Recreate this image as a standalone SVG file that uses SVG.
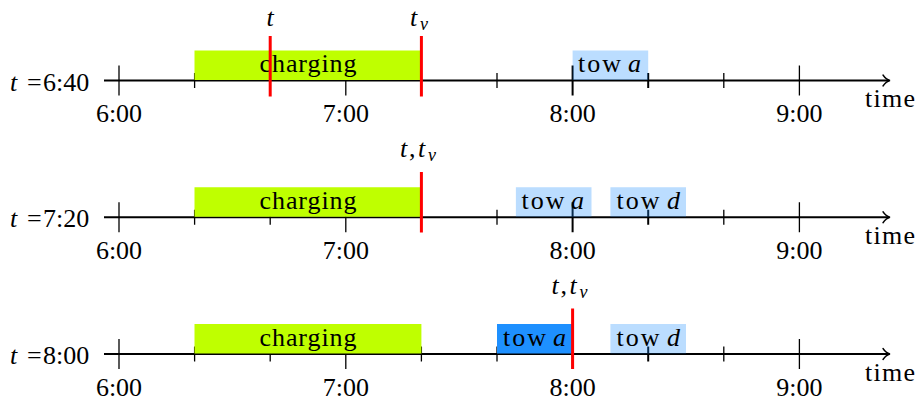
<svg xmlns="http://www.w3.org/2000/svg" width="919" height="402" viewBox="0 0 919 402">
<style>
text{font-family:"Liberation Serif","Times New Roman",serif;font-size:26px;fill:#000}
.i{font-style:italic}
.sub{font-style:italic;font-size:18px}
.mid{text-anchor:middle}
.axis{stroke:#000;stroke-width:1.8;fill:none}
.arr{stroke:#000;stroke-width:1.4;fill:none;stroke-linecap:round}
.tk{stroke:#000;stroke-width:1.3}
.tkb{stroke:#000;stroke-width:2}
.chg{fill:#bfff00}
.tow{fill:#1e90ff;fill-opacity:0.3}
.towd{fill:#1e90ff}
.red{stroke:#ff0000;stroke-width:3}
</style>
<rect width="919" height="402" fill="#fff"/>

<g id="row1">
  <g id="row1-axis">
    <line class="axis" x1="104" y1="80.5" x2="889" y2="80.5"/>
    <path class="arr" d="M883,75 Q886,79.5 890,80.5 Q886,81.5 883,86"/>
    <line class="tk" x1="119" y1="65.5" x2="119" y2="95.5"/>
    <line class="tk" x1="194.6" y1="73" x2="194.6" y2="88"/>
    <line class="tk" x1="270.2" y1="73" x2="270.2" y2="88"/>
    <line class="tk" x1="345.8" y1="65.5" x2="345.8" y2="95.5"/>
    <line class="tk" x1="421.4" y1="73" x2="421.4" y2="88"/>
    <line class="tk" x1="497" y1="73" x2="497" y2="88"/>
    <line class="tkb" x1="572.6" y1="65.5" x2="572.6" y2="95.5"/>
    <line class="tkb" x1="648.2" y1="73" x2="648.2" y2="88"/>
    <line class="tk" x1="723.8" y1="73" x2="723.8" y2="88"/>
    <line class="tk" x1="799.4" y1="65.5" x2="799.4" y2="95.5"/>
    <text class="mid" x="119" y="122">6:00</text>
    <text class="mid" x="345.8" y="122">7:00</text>
    <text class="mid" x="572.6" y="122">8:00</text>
    <text class="mid" x="799.4" y="122">9:00</text>
    <text x="865" y="107" textLength="50">time</text>
    <text y="90.5"><tspan class="i" x="10">t</tspan><tspan x="27">=</tspan><tspan x="43">6:40</tspan></text>
  </g>
  <g id="row1-charging">
    <rect class="chg" x="194.5" y="50.5" width="226.9" height="29.5"/>
    <text x="259.5" y="72" textLength="97">charging</text>
  </g>
  <g id="row1-tow-a">
    <rect class="tow" x="572.6" y="50.5" width="75.6" height="29.5"/>
    <text y="72"><tspan x="578" textLength="43">tow</tspan><tspan class="i" x="628">a</tspan></text>
  </g>
  <g id="row1-markers">
    <line class="red" x1="270.2" y1="36" x2="270.2" y2="96.5"/>
    <line class="red" x1="421.4" y1="36" x2="421.4" y2="96.5"/>
    <text class="i mid" x="270.2" y="26">t</text>
    <text y="26"><tspan class="i" x="410">t</tspan><tspan class="sub" x="420" dy="4">v</tspan></text>
  </g>
</g>

<g id="row2">
  <g id="row2-axis">
    <line class="axis" x1="104" y1="217.25" x2="889" y2="217.25"/>
    <path class="arr" d="M883,211.75 Q886,216.25 890,217.25 Q886,218.25 883,222.75"/>
    <line class="tk" x1="119" y1="202.25" x2="119" y2="232.25"/>
    <line class="tk" x1="194.6" y1="209.75" x2="194.6" y2="224.75"/>
    <line class="tk" x1="270.2" y1="209.75" x2="270.2" y2="224.75"/>
    <line class="tk" x1="345.8" y1="202.25" x2="345.8" y2="232.25"/>
    <line class="tk" x1="421.4" y1="209.75" x2="421.4" y2="224.75"/>
    <line class="tk" x1="497" y1="209.75" x2="497" y2="224.75"/>
    <line class="tkb" x1="572.6" y1="202.25" x2="572.6" y2="232.25"/>
    <line class="tkb" x1="648.2" y1="209.75" x2="648.2" y2="224.75"/>
    <line class="tk" x1="723.8" y1="209.75" x2="723.8" y2="224.75"/>
    <line class="tk" x1="799.4" y1="202.25" x2="799.4" y2="232.25"/>
    <text class="mid" x="119" y="258.75">6:00</text>
    <text class="mid" x="345.8" y="258.75">7:00</text>
    <text class="mid" x="572.6" y="258.75">8:00</text>
    <text class="mid" x="799.4" y="258.75">9:00</text>
    <text x="865" y="243.75" textLength="50">time</text>
    <text y="227.25"><tspan class="i" x="10">t</tspan><tspan x="27">=</tspan><tspan x="43">7:20</tspan></text>
  </g>
  <g id="row2-charging">
    <rect class="chg" x="194.5" y="187.25" width="226.9" height="29.5"/>
    <text x="259.5" y="208.75" textLength="97">charging</text>
  </g>
  <g id="row2-tow-a">
    <rect class="tow" x="515.9" y="187.25" width="75.6" height="29.5"/>
    <text y="208.75"><tspan x="521.5" textLength="43">tow</tspan><tspan class="i" x="571">a</tspan></text>
  </g>
  <g id="row2-tow-d">
    <rect class="tow" x="610.4" y="187.25" width="75.6" height="29.5"/>
    <text y="208.75"><tspan x="616.5" textLength="43">tow</tspan><tspan class="i" x="667">d</tspan></text>
  </g>
  <g id="row2-markers">
    <line class="red" x1="421.4" y1="172" x2="421.4" y2="232.5"/>
    <text y="157"><tspan class="i" x="400">t</tspan><tspan x="409">,</tspan><tspan class="i" x="418">t</tspan><tspan class="sub" x="428" dy="4">v</tspan></text>
  </g>
</g>

<g id="row3">
  <g id="row3-axis">
    <line class="axis" x1="104" y1="354" x2="889" y2="354"/>
    <path class="arr" d="M883,348.5 Q886,353 890,354 Q886,355 883,359.5"/>
    <line class="tk" x1="119" y1="339" x2="119" y2="369"/>
    <line class="tk" x1="194.6" y1="346.5" x2="194.6" y2="361.5"/>
    <line class="tk" x1="270.2" y1="346.5" x2="270.2" y2="361.5"/>
    <line class="tk" x1="345.8" y1="339" x2="345.8" y2="369"/>
    <line class="tk" x1="421.4" y1="346.5" x2="421.4" y2="361.5"/>
    <line class="tk" x1="497" y1="346.5" x2="497" y2="361.5"/>
    <line class="tkb" x1="572.6" y1="339" x2="572.6" y2="369"/>
    <line class="tkb" x1="648.2" y1="346.5" x2="648.2" y2="361.5"/>
    <line class="tk" x1="723.8" y1="346.5" x2="723.8" y2="361.5"/>
    <line class="tk" x1="799.4" y1="339" x2="799.4" y2="369"/>
    <text class="mid" x="119" y="395.5">6:00</text>
    <text class="mid" x="345.8" y="395.5">7:00</text>
    <text class="mid" x="572.6" y="395.5">8:00</text>
    <text class="mid" x="799.4" y="395.5">9:00</text>
    <text x="865" y="380.5" textLength="50">time</text>
    <text y="364"><tspan class="i" x="10">t</tspan><tspan x="27">=</tspan><tspan x="43">8:00</tspan></text>
  </g>
  <g id="row3-charging">
    <rect class="chg" x="194.5" y="324" width="226.9" height="29.5"/>
    <text x="259.5" y="345.5" textLength="97">charging</text>
  </g>
  <g id="row3-tow-a">
    <rect class="towd" x="497" y="324" width="75.6" height="29.5"/>
    <text y="345.5"><tspan x="503" textLength="43">tow</tspan><tspan class="i" x="553">a</tspan></text>
  </g>
  <g id="row3-tow-d">
    <rect class="tow" x="610.4" y="324" width="75.6" height="29.5"/>
    <text y="345.5"><tspan x="616.5" textLength="43">tow</tspan><tspan class="i" x="667">d</tspan></text>
  </g>
  <g id="row3-markers">
    <line class="red" x1="572.6" y1="308.5" x2="572.6" y2="369"/>
    <text y="294"><tspan class="i" x="551.5">t</tspan><tspan x="560.5">,</tspan><tspan class="i" x="569.5">t</tspan><tspan class="sub" x="579.5" dy="4">v</tspan></text>
  </g>
</g>
</svg>
